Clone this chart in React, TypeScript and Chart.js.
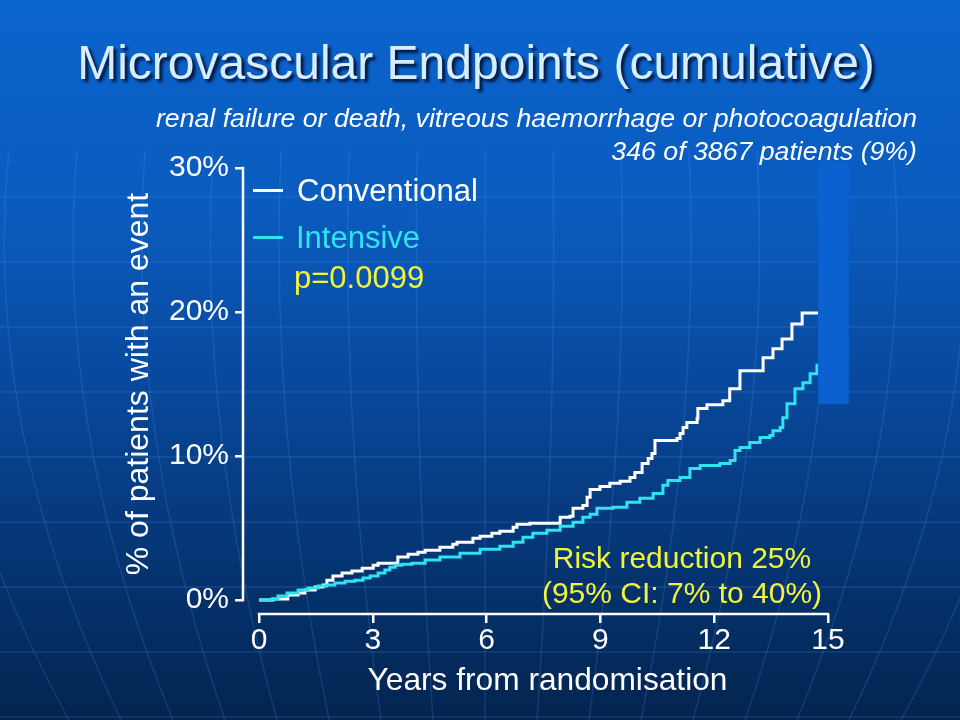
import React, { useEffect, useRef } from 'react';
import { Chart, registerables } from 'chart.js';

Chart.register(...registerables);

// ---- data ----
const xTickValues = [0, 3, 6, 9, 12, 15];
const yTickValues = [0, 10, 20, 30];

const conventionalYears = [
  0, 0.37, 0.76, 1.03, 1.21, 1.48, 1.69, 1.79, 1.95, 2.19, 2.45, 2.72, 3.01, 3.14, 3.66, 3.93,
  4.19, 4.38, 4.77, 5.11, 5.22, 5.64, 5.83, 6.14, 6.35, 6.7, 6.8, 7.14, 7.94, 8.2, 8.28, 8.54,
  8.65, 8.73, 8.99, 9.25, 9.52, 9.78, 9.91, 10.1, 10.26, 10.36, 10.44, 11.02, 11.1, 11.18, 11.28,
  11.55, 11.57, 11.81, 12.23, 12.41, 12.68, 13.29, 13.55, 13.79, 14.05, 14.32, 14.74,
];
const conventionalPct = [
  0, 0.07, 0.35, 0.48, 0.69, 0.9, 1.04, 1.38, 1.66, 1.87, 2.01, 2.21, 2.42, 2.56, 2.98, 3.18,
  3.32, 3.46, 3.67, 3.88, 4.01, 4.29, 4.43, 4.64, 4.78, 5.05, 5.26, 5.33, 5.74, 5.81, 6.37, 6.57,
  7.13, 7.68, 7.89, 8.1, 8.24, 8.51, 8.86, 9.48, 9.83, 10.17, 11.07, 11.21, 11.56, 11.97, 12.32,
  12.6, 13.29, 13.56, 13.84, 14.67, 15.92, 16.82, 17.44, 18.13, 19.17, 19.93, 19.93,
];

const intensiveYears = [
  0, 0.34, 0.5, 0.74, 1.03, 1.29, 1.56, 1.79, 2.0, 2.27, 2.53, 2.74, 2.93, 3.14, 3.32, 3.45,
  3.59, 3.77, 4.03, 4.38, 4.77, 5.3, 5.83, 6.35, 6.7, 6.96, 7.22, 7.59, 7.94, 8.28, 8.54, 8.73,
  8.91, 9.33, 9.7, 10.04, 10.39, 10.65, 10.78, 11.1, 11.36, 11.63, 12.15, 12.42, 12.55, 12.68,
  12.94, 13.21, 13.47, 13.55, 13.74, 13.81, 13.92, 14.13, 14.34, 14.53, 14.71,
];
const intensivePct = [
  0, 0.07, 0.28, 0.48, 0.69, 0.83, 0.97, 1.04, 1.18, 1.31, 1.38, 1.52, 1.66, 1.87, 2.08, 2.28,
  2.42, 2.49, 2.56, 2.77, 2.98, 3.25, 3.53, 3.74, 4.01, 4.36, 4.64, 4.84, 5.12, 5.4, 5.74, 5.95,
  6.37, 6.44, 6.78, 7.06, 7.4, 7.96, 8.3, 8.51, 9.13, 9.34, 9.48, 9.69, 10.38, 10.59,
  10.93, 11.28, 11.42, 11.76, 11.97, 12.66, 13.63, 14.67, 15.09, 15.71, 16.4,
];

const FONT = '"Liberation Sans", Arial, Helvetica, sans-serif';
const WHITE = '#ffffff';
const CYAN = '#30e4ef';
const YELLOW = '#f2f43a';

const backgroundPlugin = {
  id: 'slideBackground',
  beforeDraw(chart: any) {
    const { ctx, width, height } = chart;
    ctx.save();
    const g = ctx.createLinearGradient(0, 0, 0, height);
    g.addColorStop(0, '#0b64cd');
    g.addColorStop(0.3, '#0a5bbd');
    g.addColorStop(0.55, '#08479a');
    g.addColorStop(0.8, '#05336f');
    g.addColorStop(1, '#03244f');
    ctx.fillStyle = g;
    ctx.fillRect(0, 0, width, height);
    // faint globe grid
    ctx.strokeStyle = 'rgba(90,160,255,0.18)';
    ctx.lineWidth = 1.5;
    for (let y = 197; y < height; y += 65) {
      ctx.beginPath();
      ctx.moveTo(0, y);
      ctx.lineTo(width, y);
      ctx.stroke();
    }
    for (let i = -8; i <= 8; i++) {
      ctx.beginPath();
      ctx.moveTo(485 + i * 68, 150);
      ctx.quadraticCurveTo(485 + i * 72, 430, 485 + i * 52, height);
      ctx.stroke();
    }
    ctx.restore();
  },
};

const axesPlugin = {
  id: 'detachedAxes',
  afterDraw(chart: any) {
    const { ctx, chartArea } = chart;
    const xs = chart.scales.x;
    const ys = chart.scales.y;
    ctx.save();
    ctx.strokeStyle = WHITE;
    ctx.lineWidth = 2.5;
    ctx.beginPath();
    ctx.moveTo(chartArea.left, ys.getPixelForValue(yTickValues[yTickValues.length - 1]) - 1.2);
    ctx.lineTo(chartArea.left, ys.getPixelForValue(yTickValues[0]) + 1.2);
    ctx.stroke();
    ctx.beginPath();
    ctx.moveTo(xs.getPixelForValue(xTickValues[0]) - 1.2, chartArea.bottom);
    ctx.lineTo(xs.getPixelForValue(xTickValues[xTickValues.length - 1]) + 1.2, chartArea.bottom);
    ctx.stroke();
    ctx.restore();
  },
};

const coverPlugin = {
  id: 'coverBar',
  afterDatasetsDraw(chart: any) {
    const { ctx } = chart;
    const xs = chart.scales.x;
    const ys = chart.scales.y;
    const x1 = xs.getPixelForValue(14.74);
    const x2 = xs.getPixelForValue(15.55);
    const y1 = ys.getPixelForValue(30.4);
    const y2 = ys.getPixelForValue(13.6);
    ctx.save();
    ctx.fillStyle = '#0b61cf';
    ctx.fillRect(x1, y1, x2 - x1, y2 - y1);
    ctx.restore();
  },
};

function abs(extra: React.CSSProperties): React.CSSProperties {
  return {
    position: 'absolute',
    margin: 0,
    whiteSpace: 'nowrap',
    fontFamily: FONT,
    ...extra,
  };
}

export default function App() {
  const canvasRef = useRef<HTMLCanvasElement | null>(null);

  useEffect(() => {
    document.body.style.margin = '0';
    const canvas = canvasRef.current;
    if (!canvas) return;
    const chart = new Chart(canvas, {
      type: 'line',
      data: {
        datasets: [
          {
            label: 'Conventional',
            data: conventionalYears.map((x, i) => ({ x, y: conventionalPct[i] })),
            borderColor: WHITE,
            borderWidth: 3,
            pointRadius: 0,
            stepped: 'before',
            fill: false,
            order: 2,
          },
          {
            label: 'Intensive',
            data: intensiveYears.map((x, i) => ({ x, y: intensivePct[i] })),
            borderColor: CYAN,
            borderWidth: 3,
            pointRadius: 0,
            stepped: 'before',
            fill: false,
            order: 1,
          },
        ],
      },
      options: {
        responsive: false,
        animation: false,
        events: [],
        layout: { padding: { left: 120, top: 154, right: 108, bottom: 16 } },
        plugins: {
          legend: { display: false },
          tooltip: { enabled: false },
          title: { display: false },
        },
        scales: {
          x: {
            type: 'linear',
            min: -0.4218,
            max: 15.634,
            afterBuildTicks: (s: any) => {
              s.ticks = xTickValues.map((v) => ({ value: v }));
            },
            afterFit: (s: any) => {
              s.height = 90;
            },
            ticks: {
              color: WHITE,
              font: { family: FONT, size: 30 },
              padding: 0,
              maxRotation: 0,
              autoSkip: false,
              callback: (v: any) => String(v),
            },
            grid: {
              display: true,
              drawOnChartArea: false,
              drawTicks: true,
              tickLength: 9,
              color: WHITE,
              lineWidth: 2.5,
            },
            border: { display: false },
            title: {
              display: true,
              text: 'Years from randomisation',
              color: WHITE,
              font: { family: FONT, size: 31.7 },
              padding: { top: 0, bottom: 4 },
            },
          },
          y: {
            type: 'linear',
            min: -0.972,
            max: 30.97,
            afterBuildTicks: (s: any) => {
              s.ticks = yTickValues.map((v) => ({ value: v }));
            },
            afterFit: (s: any) => {
              s.width = 123;
            },
            ticks: {
              color: WHITE,
              font: { family: FONT, size: 30 },
              padding: 6,
              autoSkip: false,
              callback: (v: any) => v + '%',
            },
            grid: {
              display: true,
              drawOnChartArea: false,
              drawTicks: true,
              tickLength: 8,
              color: WHITE,
              lineWidth: 2.5,
            },
            border: { display: false },
            title: {
              display: true,
              text: '% of patients with an event',
              color: WHITE,
              font: { family: FONT, size: 32 },
              padding: { top: 0, bottom: 0 },
            },
          },
        },
      },
      plugins: [backgroundPlugin, coverPlugin, axesPlugin],
    } as any);
    return () => chart.destroy();
  }, []);

  return (
    <div style={{ position: 'fixed', left: 0, top: 0, width: 960, height: 720, overflow: 'hidden' }}>
      <canvas ref={canvasRef} width={960} height={720} style={{ display: 'block' }} />
      <div
        style={abs({
          left: 0,
          top: 39,
          width: 952,
          textAlign: 'center',
          fontSize: 48,
          lineHeight: '48px',
          color: '#d8eeff',
          textShadow: '3px 3px 3px rgba(0,12,45,0.9)',
        })}
      >
        Microvascular Endpoints (cumulative)
      </div>
      <div
        style={abs({
          right: 43,
          top: 105,
          textAlign: 'right',
          fontSize: 26.7,
          lineHeight: '26.7px',
          fontStyle: 'italic',
          color: WHITE,
        })}
      >
        renal failure or death, vitreous haemorrhage or photocoagulation
      </div>
      <div
        style={abs({
          right: 43,
          top: 138,
          textAlign: 'right',
          fontSize: 26.7,
          lineHeight: '26.7px',
          fontStyle: 'italic',
          color: WHITE,
        })}
      >
        346 of 3867 patients (9%)
      </div>
      <div style={abs({ left: 253, top: 189, width: 30, height: 3, background: WHITE })} />
      <div style={abs({ left: 297, top: 175, fontSize: 31, lineHeight: '31px', color: WHITE })}>
        Conventional
      </div>
      <div style={abs({ left: 253, top: 236, width: 30, height: 3, background: CYAN })} />
      <div style={abs({ left: 296, top: 222, fontSize: 31, lineHeight: '31px', color: CYAN })}>
        Intensive
      </div>
      <div style={abs({ left: 294, top: 262, fontSize: 31, lineHeight: '31px', color: YELLOW })}>
        p=0.0099
      </div>
      <div
        style={abs({
          left: 482,
          width: 400,
          top: 543,
          textAlign: 'center',
          fontSize: 30,
          lineHeight: '30px',
          color: YELLOW,
        })}
      >
        Risk reduction 25%
      </div>
      <div
        style={abs({
          left: 482,
          width: 400,
          top: 578,
          textAlign: 'center',
          fontSize: 30,
          lineHeight: '30px',
          color: YELLOW,
        })}
      >
        (95% CI: 7% to 40%)
      </div>
    </div>
  );
}
